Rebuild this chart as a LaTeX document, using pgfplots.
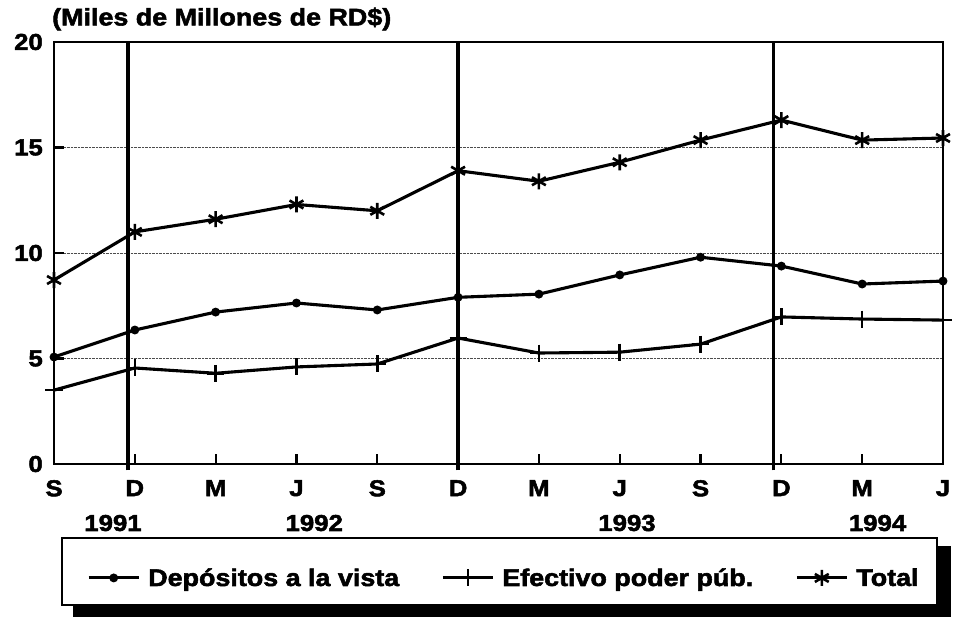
\documentclass[border=0pt]{standalone}
\usepackage{fontspec}
\setmainfont{Liberation Sans}[FakeStretch=1.12, BoldFeatures={FakeBold=2.2}]
\usepackage{pgfplots}
\pgfplotsset{compat=1.18}
\begin{document}
\begin{tikzpicture}
\useasboundingbox (0,0) rectangle (953bp,617bp);
\fill[black] (73bp,0bp) rectangle (951bp,71bp);
\draw[line width=2.4bp, fill=white] (62bp,12bp) rectangle (937bp,79bp);
\begin{axis}[
  at={(54bp,153bp)}, anchor=south west,
  scale only axis, width=889bp, height=422bp,
  xmin=0, xmax=11, ymin=0, ymax=20,
  clip=false,
  axis line style={line width=2.6bp},
  xtick={0,...,11},
  xticklabels={S,D,M,J,S,D,M,J,S,D,M,J},
  ytick={0,5,10,15,20},
  tick align=inside,
  xtick pos=bottom, ytick pos=left,
  major tick length=10bp,
  tick style={line width=2.2bp, black},
  ymajorgrids,
  grid style={densely dotted, line width=0.6bp, black!70},
  /pgf/number format/assume math mode=true,
  tick label style={font=\fontsize{23bp}{25bp}\selectfont\bfseries, inner sep=0pt},
  xticklabel style={anchor=north, yshift=-16bp},
  yticklabel style={anchor=east, xshift=-11bp},
  legend style={at={(0.0371,-0.270)}, anchor=west, draw=none, fill=none, inner sep=0pt,
    nodes={inner sep=0pt, font=\fontsize{24bp}{26bp}\selectfont\bfseries}},
  legend columns=3,
  legend image code/.code={\draw[mark repeat=2,mark phase=2,#1] plot coordinates {(0bp,0bp) (25bp,0bp) (50bp,0bp)};},
]
\addplot[line width=3.2bp, forget plot] coordinates {(0.915,-0.3) (0.915,20)};
\addplot[line width=3.2bp, forget plot] coordinates {(5,-0.3) (5,20)};
\addplot[line width=3.2bp, forget plot] coordinates {(8.9,-0.3) (8.9,20)};
\addplot[line width=3.1bp, mark=*, mark size=2.8bp] coordinates {
(0,5.07) (1,6.35) (2,7.2) (3,7.63) (4,7.3) (5,7.9) (6,8.05) (7,8.96) (8,9.8) (9,9.38) (10,8.53) (11,8.67)};
\addlegendentry{\kern8bp Depósitos a la vista\kern42bp}
\addplot[line width=3.1bp, mark=+, mark size=8.5bp, mark options={line width=2.6bp}] coordinates {
(0,3.5) (1,4.55) (2,4.3) (3,4.6) (4,4.74) (5,5.97) (6,5.26) (7,5.3) (8,5.68) (9,6.97) (10,6.87) (11,6.82)};
\addlegendentry{\kern8bp Efectivo poder púb.\kern42bp}
\addplot[line width=3.1bp, mark=asterisk, mark size=8bp, mark options={line width=2.6bp}] coordinates {
(0,8.72) (1,11.0) (2,11.6) (3,12.3) (4,12.0) (5,13.9) (6,13.4) (7,14.3) (8,15.35) (9,16.3) (10,15.35) (11,15.45)};
\addlegendentry{\kern8bp Total}
\node[font=\fontsize{23bp}{25bp}\selectfont\bfseries] at (axis cs:0.73,-2.8) {1991};
\node[font=\fontsize{23bp}{25bp}\selectfont\bfseries] at (axis cs:3.22,-2.8) {1992};
\node[font=\fontsize{23bp}{25bp}\selectfont\bfseries] at (axis cs:7.09,-2.8) {1993};
\node[font=\fontsize{23bp}{25bp}\selectfont\bfseries] at (axis cs:10.19,-2.8) {1994};
\end{axis}
\node[anchor=west, inner sep=0pt, font=\fontsize{24bp}{26bp}\selectfont\bfseries] at (52bp,598bp) {(Miles de Millones de RD\$)};
\end{tikzpicture}
\end{document}
